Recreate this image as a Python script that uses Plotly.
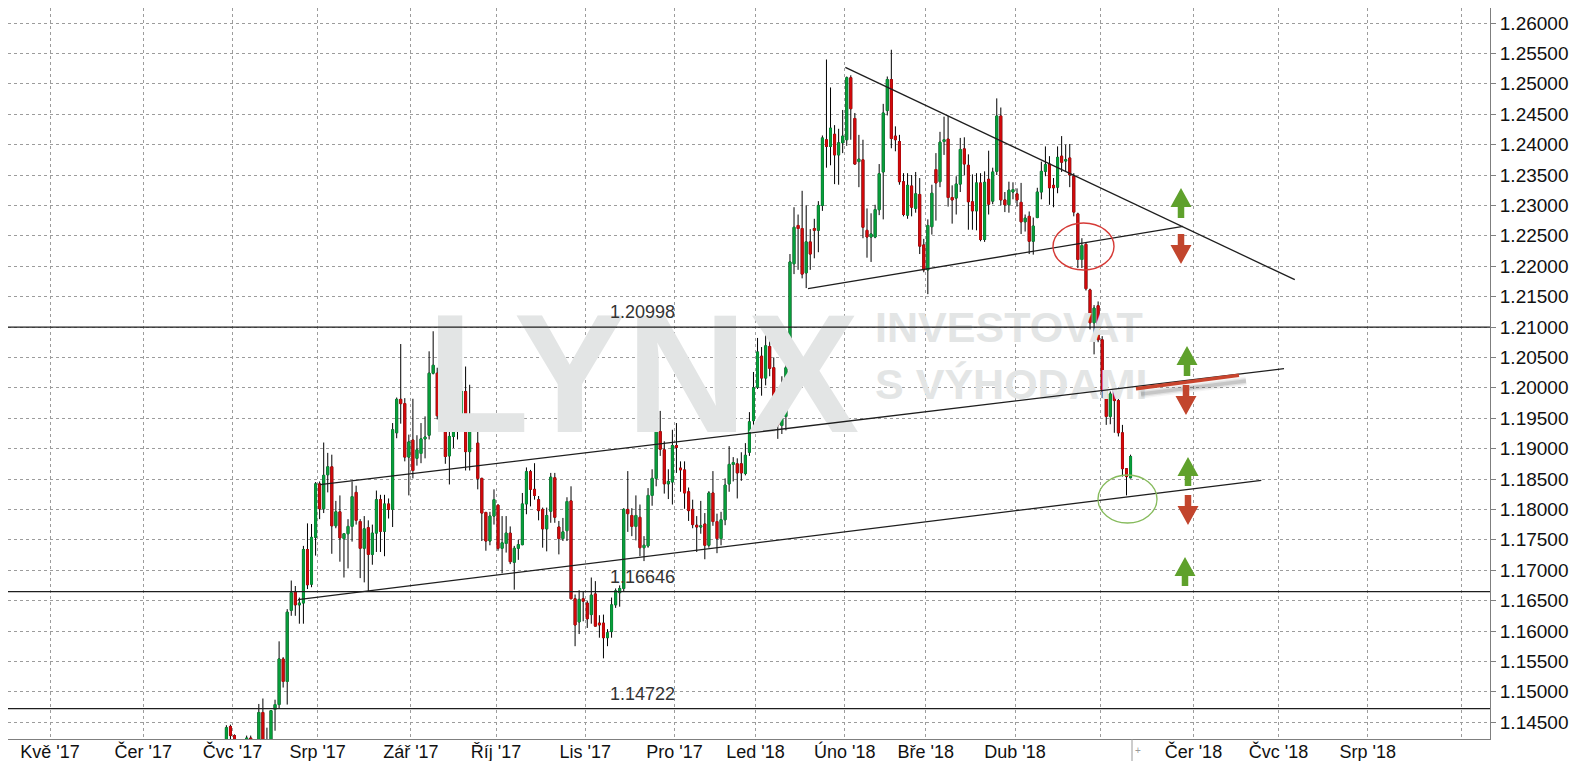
import pandas as pd
import plotly.graph_objects as go

# ---------------- data (EUR/USD daily) ----------------
DATES = [
    "2017-06-29", "2017-06-30",
    "2017-07-03", "2017-07-04", "2017-07-05", "2017-07-06", "2017-07-07",
    "2017-07-10", "2017-07-11", "2017-07-12", "2017-07-13", "2017-07-14",
    "2017-07-17", "2017-07-18", "2017-07-19", "2017-07-20", "2017-07-21",
    "2017-07-24", "2017-07-25", "2017-07-26", "2017-07-27", "2017-07-28",
    "2017-07-31", "2017-08-01", "2017-08-02", "2017-08-03", "2017-08-04",
    "2017-08-07", "2017-08-08", "2017-08-09", "2017-08-10", "2017-08-11",
    "2017-08-14", "2017-08-15", "2017-08-16", "2017-08-17", "2017-08-18",
    "2017-08-21", "2017-08-22", "2017-08-23", "2017-08-24", "2017-08-25",
    "2017-08-28", "2017-08-29", "2017-08-30", "2017-08-31", "2017-09-01",
    "2017-09-04", "2017-09-05", "2017-09-06", "2017-09-07", "2017-09-08",
    "2017-09-11", "2017-09-12", "2017-09-13", "2017-09-14", "2017-09-15",
    "2017-09-18", "2017-09-19", "2017-09-20", "2017-09-21", "2017-09-22",
    "2017-09-25", "2017-09-26", "2017-09-27", "2017-09-28", "2017-09-29",
    "2017-10-02", "2017-10-03", "2017-10-04", "2017-10-05", "2017-10-06",
    "2017-10-09", "2017-10-10", "2017-10-11", "2017-10-12", "2017-10-13",
    "2017-10-16", "2017-10-17", "2017-10-18", "2017-10-19", "2017-10-20",
    "2017-10-23", "2017-10-24", "2017-10-25", "2017-10-26", "2017-10-27",
    "2017-10-30", "2017-10-31", "2017-11-01", "2017-11-02", "2017-11-03",
    "2017-11-06", "2017-11-07", "2017-11-08", "2017-11-09", "2017-11-10",
    "2017-11-13", "2017-11-14", "2017-11-15", "2017-11-16", "2017-11-17",
    "2017-11-20", "2017-11-21", "2017-11-22", "2017-11-23", "2017-11-24",
    "2017-11-27", "2017-11-28", "2017-11-29", "2017-11-30", "2017-12-01",
    "2017-12-04", "2017-12-05", "2017-12-06", "2017-12-07", "2017-12-08",
    "2017-12-11", "2017-12-12", "2017-12-13", "2017-12-14", "2017-12-15",
    "2017-12-18", "2017-12-19", "2017-12-20", "2017-12-21", "2017-12-22",
    "2017-12-26", "2017-12-27", "2017-12-28", "2017-12-29",
    "2018-01-02", "2018-01-03", "2018-01-04", "2018-01-05",
    "2018-01-08", "2018-01-09", "2018-01-10", "2018-01-11", "2018-01-12",
    "2018-01-15", "2018-01-16", "2018-01-17", "2018-01-18", "2018-01-19",
    "2018-01-22", "2018-01-23", "2018-01-24", "2018-01-25", "2018-01-26",
    "2018-01-29", "2018-01-30", "2018-01-31", "2018-02-01", "2018-02-02",
    "2018-02-05", "2018-02-06", "2018-02-07", "2018-02-08", "2018-02-09",
    "2018-02-12", "2018-02-13", "2018-02-14", "2018-02-15", "2018-02-16",
    "2018-02-19", "2018-02-20", "2018-02-21", "2018-02-22", "2018-02-23",
    "2018-02-26", "2018-02-27", "2018-02-28", "2018-03-01", "2018-03-02",
    "2018-03-05", "2018-03-06", "2018-03-07", "2018-03-08", "2018-03-09",
    "2018-03-12", "2018-03-13", "2018-03-14", "2018-03-15", "2018-03-16",
    "2018-03-19", "2018-03-20", "2018-03-21", "2018-03-22", "2018-03-23",
    "2018-03-26", "2018-03-27", "2018-03-28", "2018-03-29", "2018-03-30",
    "2018-04-02", "2018-04-03", "2018-04-04", "2018-04-05", "2018-04-06",
    "2018-04-09", "2018-04-10", "2018-04-11", "2018-04-12", "2018-04-13",
    "2018-04-16", "2018-04-17", "2018-04-18", "2018-04-19", "2018-04-20",
    "2018-04-23", "2018-04-24", "2018-04-25", "2018-04-26", "2018-04-27",
    "2018-04-30", "2018-05-01", "2018-05-02", "2018-05-03", "2018-05-04",
    "2018-05-07", "2018-05-08", "2018-05-09", "2018-05-10",
]

OPEN = [
    1.1375, 1.1443,
    1.1428, 1.1363, 1.1348, 1.1352, 1.1424,
    1.1400, 1.1398, 1.1466, 1.1414, 1.1398,
    1.1471, 1.1479, 1.1554, 1.1517, 1.1634,
    1.1665, 1.1643, 1.1646, 1.1734, 1.1677,
    1.1754, 1.1842, 1.1801, 1.1857, 1.1870,
    1.1773, 1.1796, 1.1752, 1.1760, 1.1772,
    1.1828, 1.1780, 1.1736, 1.1770, 1.1726,
    1.1761, 1.1816, 1.1764, 1.1809, 1.1800,
    1.1926, 1.1981, 1.1974, 1.1886, 1.1914,
    1.1884, 1.1892, 1.1916, 1.1922, 1.2024,
    1.2024, 1.1954, 1.1966, 1.1888, 1.1920,
    1.1935, 1.1956, 1.1994, 1.1895, 1.1942,
    1.1909, 1.1851, 1.1795, 1.1748, 1.1789,
    1.1807, 1.1736, 1.1744, 1.1761, 1.1713,
    1.1736, 1.1742, 1.1809, 1.1862, 1.1833,
    1.1816, 1.1800, 1.1768, 1.1797, 1.1852,
    1.1771, 1.1752, 1.1765, 1.1814, 1.1653,
    1.1615, 1.1653, 1.1646, 1.1627, 1.1661,
    1.1613, 1.1613, 1.1589, 1.1599, 1.1643,
    1.1663, 1.1670, 1.1800, 1.1790, 1.1772,
    1.1787, 1.1737, 1.1740, 1.1823, 1.1851,
    1.1928, 1.1898, 1.1842, 1.1845, 1.1905,
    1.1868, 1.1865, 1.1829, 1.1800, 1.1774,
    1.1771, 1.1776, 1.1741, 1.1827, 1.1780,
    1.1752, 1.1783, 1.1842, 1.1874, 1.1875,
    1.1875, 1.1859, 1.1894, 1.1946,
    1.2001, 1.2052, 1.2016, 1.2068,
    1.2033, 1.1968, 1.1938, 1.1953, 1.2034,
    1.2204, 1.2267, 1.2262, 1.2189, 1.2240,
    1.2262, 1.2259, 1.2300, 1.2408, 1.2397,
    1.2417, 1.2383, 1.2403, 1.2408, 1.2510,
    1.2443, 1.2372, 1.2375, 1.2259, 1.2248,
    1.2248, 1.2293, 1.2355, 1.2456, 1.2507,
    1.2414, 1.2405, 1.2339, 1.2284, 1.2332,
    1.2295, 1.2318, 1.2235, 1.2194, 1.2265,
    1.2359, 1.2339, 1.2405, 1.2409, 1.2313,
    1.2312, 1.2335, 1.2393, 1.2366, 1.2306,
    1.2291, 1.2337, 1.2244, 1.2343, 1.2307,
    1.2356, 1.2447, 1.2309, 1.2301, 1.2322,
    1.2319, 1.2305, 1.2273, 1.2282, 1.2241,
    1.2280, 1.2322, 1.2356, 1.2368, 1.2333,
    1.2330, 1.2381, 1.2373, 1.2378, 1.2348,
    1.2286, 1.2211, 1.2236, 1.2161, 1.2107,
    1.2135, 1.2079, 1.1995, 1.1953, 1.1999,
    1.1979, 1.1926, 1.1867, 1.1852,
]

HIGH = [
    1.1445, 1.1446,
    1.1430, 1.1368, 1.1367, 1.1428, 1.1428,
    1.1419, 1.1480, 1.1489, 1.1441, 1.1470,
    1.1487, 1.1583, 1.1557, 1.1636, 1.1683,
    1.1674, 1.1655, 1.1740, 1.1777, 1.1776,
    1.1845, 1.1846, 1.1910, 1.1893, 1.1890,
    1.1814, 1.1823, 1.1760, 1.1784, 1.1846,
    1.1839, 1.1784, 1.1789, 1.1782, 1.1775,
    1.1831, 1.1824, 1.1824, 1.1818, 1.1942,
    1.1984, 1.2072, 1.1983, 1.1923, 1.1982,
    1.1922, 1.1942, 1.1953, 1.2060, 1.2093,
    1.2033, 1.1981, 1.1995, 1.1961, 1.1957,
    1.1975, 1.2010, 1.2035, 1.2005, 1.1957,
    1.1937, 1.1852, 1.1796, 1.1796, 1.1833,
    1.1808, 1.1789, 1.1789, 1.1772, 1.1740,
    1.1750, 1.1827, 1.1869, 1.1865, 1.1876,
    1.1822, 1.1803, 1.1803, 1.1860, 1.1860,
    1.1781, 1.1786, 1.1820, 1.1838, 1.1660,
    1.1667, 1.1665, 1.1650, 1.1688, 1.1682,
    1.1626, 1.1627, 1.1603, 1.1655, 1.1670,
    1.1675, 1.1802, 1.1863, 1.1802, 1.1823,
    1.1808, 1.1756, 1.1835, 1.1866, 1.1946,
    1.1962, 1.1912, 1.1866, 1.1931, 1.1942,
    1.1879, 1.1879, 1.1836, 1.1816, 1.1789,
    1.1814, 1.1794, 1.1830, 1.1863, 1.1793,
    1.1796, 1.1851, 1.1904, 1.1886, 1.1884,
    1.1894, 1.1909, 1.1960, 1.2026,
    1.2082, 1.2067, 1.2090, 1.2082,
    1.2050, 1.1976, 1.2019, 1.2061, 1.2220,
    1.2297, 1.2285, 1.2324, 1.2300, 1.2261,
    1.2278, 1.2307, 1.2415, 1.2540, 1.2494,
    1.2432, 1.2426, 1.2457, 1.2512, 1.2514,
    1.2452, 1.2416, 1.2408, 1.2295, 1.2287,
    1.2301, 1.2368, 1.2467, 1.2512, 1.2556,
    1.2430, 1.2416, 1.2353, 1.2353, 1.2350,
    1.2355, 1.2345, 1.2245, 1.2277, 1.2334,
    1.2386, 1.2421, 1.2446, 1.2447, 1.2333,
    1.2348, 1.2411, 1.2412, 1.2384, 1.2351,
    1.2353, 1.2353, 1.2356, 1.2390, 1.2362,
    1.2476, 1.2461, 1.2322, 1.2339, 1.2338,
    1.2328, 1.2337, 1.2285, 1.2290, 1.2280,
    1.2329, 1.2372, 1.2397, 1.2381, 1.2345,
    1.2397, 1.2414, 1.2400, 1.2401, 1.2353,
    1.2288, 1.2246, 1.2238, 1.2163, 1.2136,
    1.2142, 1.2085, 1.1999, 1.1994, 1.2009,
    1.1984, 1.1939, 1.1868, 1.1890,
]

LOW = [
    1.1371, 1.1405,
    1.1345, 1.1332, 1.1312, 1.1345, 1.1391,
    1.1385, 1.1390, 1.1390, 1.1391, 1.1377,
    1.1436, 1.1473, 1.1507, 1.1479, 1.1625,
    1.1625, 1.1612, 1.1612, 1.1669, 1.1672,
    1.1724, 1.1784, 1.1794, 1.1828, 1.1727,
    1.1769, 1.1714, 1.1688, 1.1703, 1.1747,
    1.1775, 1.1687, 1.1680, 1.1665, 1.1709,
    1.1730, 1.1730, 1.1723, 1.1785, 1.1771,
    1.1917, 1.1941, 1.1879, 1.1823, 1.1851,
    1.1872, 1.1876, 1.1884, 1.1915, 1.2022,
    1.1948, 1.1942, 1.1875, 1.1841, 1.1901,
    1.1915, 1.1937, 1.1864, 1.1864, 1.1931,
    1.1833, 1.1748, 1.1732, 1.1741, 1.1775,
    1.1732, 1.1695, 1.1729, 1.1710, 1.1668,
    1.1717, 1.1741, 1.1792, 1.1805, 1.1816,
    1.1782, 1.1737, 1.1731, 1.1778, 1.1778,
    1.1726, 1.1748, 1.1748, 1.1653, 1.1575,
    1.1595, 1.1616, 1.1605, 1.1612, 1.1608,
    1.1589, 1.1555, 1.1575, 1.1589, 1.1638,
    1.1640, 1.1665, 1.1763, 1.1756, 1.1749,
    1.1723, 1.1715, 1.1737, 1.1806, 1.1838,
    1.1888, 1.1826, 1.1817, 1.1808, 1.1860,
    1.1829, 1.1801, 1.1781, 1.1769, 1.1730,
    1.1760, 1.1718, 1.1737, 1.1773, 1.1728,
    1.1741, 1.1774, 1.1829, 1.1846, 1.1818,
    1.1847, 1.1856, 1.1888, 1.1937,
    1.1998, 1.1987, 1.2004, 1.2019,
    1.1967, 1.1916, 1.1924, 1.1930, 1.2032,
    1.2187, 1.2194, 1.2180, 1.2164, 1.2194,
    1.2213, 1.2223, 1.2291, 1.2362, 1.2366,
    1.2335, 1.2334, 1.2386, 1.2398, 1.2408,
    1.2367, 1.2330, 1.2246, 1.2214, 1.2207,
    1.2246, 1.2284, 1.2277, 1.2448, 1.2394,
    1.2389, 1.2334, 1.2282, 1.2278, 1.2282,
    1.2288, 1.2220, 1.2190, 1.2154, 1.2252,
    1.2275, 1.2330, 1.2383, 1.2298, 1.2270,
    1.2285, 1.2322, 1.2350, 1.2260, 1.2260,
    1.2259, 1.2241, 1.2240, 1.2285, 1.2302,
    1.2350, 1.2300, 1.2289, 1.2288, 1.2310,
    1.2298, 1.2253, 1.2257, 1.2220, 1.2219,
    1.2279, 1.2310, 1.2348, 1.2301, 1.2297,
    1.2320, 1.2355, 1.2355, 1.2330, 1.2282,
    1.2197, 1.2197, 1.2160, 1.2096, 1.2055,
    1.2075, 1.1983, 1.1939, 1.1940, 1.1926,
    1.1920, 1.1854, 1.1823, 1.1851,
]

CLOSE = [
    1.1441, 1.1428,
    1.1363, 1.1348, 1.1352, 1.1424, 1.1400,
    1.1398, 1.1466, 1.1414, 1.1398, 1.1469,
    1.1479, 1.1554, 1.1517, 1.1631, 1.1663,
    1.1643, 1.1646, 1.1734, 1.1676, 1.1754,
    1.1842, 1.1801, 1.1856, 1.1870, 1.1773,
    1.1796, 1.1753, 1.1760, 1.1772, 1.1821,
    1.1782, 1.1736, 1.1768, 1.1726, 1.1761,
    1.1816, 1.1764, 1.1809, 1.1800, 1.1931,
    1.1981, 1.1974, 1.1886, 1.1911, 1.1864,
    1.1898, 1.1916, 1.1919, 1.2024, 1.2037,
    1.1954, 1.1968, 1.1887, 1.1920, 1.1949,
    1.1956, 1.1994, 1.1895, 1.1941, 1.1951,
    1.1851, 1.1794, 1.1748, 1.1789, 1.1816,
    1.1736, 1.1745, 1.1761, 1.1714, 1.1736,
    1.1742, 1.1809, 1.1862, 1.1833, 1.1823,
    1.1798, 1.1768, 1.1790, 1.1853, 1.1787,
    1.1752, 1.1763, 1.1813, 1.1653, 1.1610,
    1.1652, 1.1649, 1.1620, 1.1659, 1.1608,
    1.1610, 1.1589, 1.1597, 1.1643, 1.1666,
    1.1670, 1.1800, 1.1793, 1.1772, 1.1790,
    1.1737, 1.1741, 1.1823, 1.1851, 1.1934,
    1.1899, 1.1842, 1.1846, 1.1905, 1.1902,
    1.1865, 1.1827, 1.1798, 1.1775, 1.1771,
    1.1773, 1.1741, 1.1827, 1.1780, 1.1752,
    1.1783, 1.1840, 1.1874, 1.1877, 1.1860,
    1.1860, 1.1889, 1.1944, 1.2000,
    1.2059, 1.2016, 1.2069, 1.2032,
    1.1968, 1.1939, 1.1949, 1.2033, 1.2207,
    1.2264, 1.2262, 1.2187, 1.2240, 1.2220,
    1.2259, 1.2300, 1.2411, 1.2397, 1.2427,
    1.2383, 1.2403, 1.2414, 1.2510, 1.2459,
    1.2368, 1.2376, 1.2264, 1.2248, 1.2253,
    1.2293, 1.2352, 1.2452, 1.2507, 1.2410,
    1.2408, 1.2339, 1.2285, 1.2333, 1.2297,
    1.2319, 1.2233, 1.2194, 1.2267, 1.2320,
    1.2337, 1.2404, 1.2408, 1.2313, 1.2309,
    1.2335, 1.2392, 1.2368, 1.2306, 1.2291,
    1.2337, 1.2244, 1.2338, 1.2302, 1.2355,
    1.2447, 1.2309, 1.2301, 1.2325, 1.2326,
    1.2309, 1.2273, 1.2279, 1.2241, 1.2266,
    1.2322, 1.2356, 1.2367, 1.2329, 1.2329,
    1.2379, 1.2371, 1.2375, 1.2350, 1.2289,
    1.2211, 1.2234, 1.2163, 1.2107, 1.2131,
    1.2079, 1.1995, 1.1953, 1.1990, 1.1979,
    1.1926, 1.1867, 1.1854, 1.1887,
]

MONTH_TICKS = [
    "2017-05-01", "2017-06-01", "2017-07-03", "2017-08-01", "2017-09-01",
    "2017-10-02", "2017-11-01", "2017-12-01", "2018-01-02", "2018-02-01",
    "2018-03-01", "2018-04-02", "2018-05-01", "2018-06-01", "2018-07-02",
    "2018-08-01", "2018-09-03",
]
MONTH_LABELS = [
    "Kvě '17", "Čer '17", "Čvc '17", "Srp '17", "Zář '17",
    "Říj '17", "Lis '17", "Pro '17", "Led '18", "Úno '18",
    "Bře '18", "Dub '18", "", "Čer '18", "Čvc '18",
    "Srp '18", "",
]
PRICE_TICKS = [
    1.145, 1.150, 1.155, 1.160, 1.165, 1.170, 1.175, 1.180, 1.185, 1.190,
    1.195, 1.200, 1.205, 1.210, 1.215, 1.220, 1.225, 1.230, 1.235, 1.240,
    1.245, 1.250, 1.255, 1.260,
]
HOLIDAYS = ["2017-12-25", "2018-01-01"]

LEVELS = [1.20998, 1.16646, 1.14722]

# trend lines: (date0, price0, date1, price1)
TREND_LINES = [
    ("2017-08-01 14:10", 1.18406, "2018-07-03 08:10", 1.20314),  # upper channel
    ("2017-07-25 04:00", 1.16515, "2018-06-25 18:00", 1.18479),  # lower channel
    ("2018-02-01 03:36", 1.25271, "2018-07-06 00:00", 1.21778),  # triangle top
    ("2018-01-18 22:50", 1.21630, "2018-05-29 10:30", 1.22656),  # triangle bottom
]

X_RANGE = ["2017-04-14 15:21", "2018-09-12 03:36"]
Y_RANGE = [1.142237, 1.262467]

# ---------------- styling ----------------
W, H = 1583, 761
ML, MR, MT, MB = 0, 101, 0, 30
PW, PH = W - ML - MR, H - MT - MB

GREEN = "#08a03c"
RED = "#d4090b"
ARROW_G = "#5fa12c"
ARROW_R = "#c2452d"
WM = "#e3e5e5"
FONT = "Liberation Sans, Arial, sans-serif"
WM_FONT = "Liberation Sans, Arial, sans-serif"

x = pd.to_datetime(DATES) + pd.Timedelta(hours=12)
body_hi = [max(o, c) for o, c in zip(OPEN, CLOSE)]
body_lo = [min(o, c) for o, c in zip(OPEN, CLOSE)]

fig = go.Figure()

# watermark (drawn under the candles)
fig.add_trace(go.Scatter(
    x=["2017-11-21 06:00"], y=[1.19972], mode="text", text=["LYNX"],
    textposition="middle center",
    textfont=dict(size=168, color=WM, family=WM_FONT, weight="bold"),
    hoverinfo="skip", showlegend=False))
fig.add_trace(go.Scatter(
    x=["2018-02-12 12:00", "2018-02-12 12:00"], y=[1.20930, 1.20000], mode="text",
    text=["INVESTOVAT", "S VÝHODAMI"], textposition="middle right",
    textfont=dict(size=43, color=WM, family=WM_FONT, weight="bold"),
    hoverinfo="skip", showlegend=False))

# wicks (black) and bodies (coloured)
fig.add_trace(go.Candlestick(
    x=x, open=OPEN, high=HIGH, low=LOW, close=CLOSE,
    increasing=dict(line=dict(color="#000000", width=1), fillcolor="#000000"),
    decreasing=dict(line=dict(color="#000000", width=1), fillcolor="#000000"),
    whiskerwidth=0, hoverinfo="skip", showlegend=False))
fig.add_trace(go.Candlestick(
    x=x, open=OPEN, high=body_hi, low=body_lo, close=CLOSE,
    increasing=dict(line=dict(color=GREEN, width=0.8), fillcolor=GREEN),
    decreasing=dict(line=dict(color=RED, width=0.8), fillcolor=RED),
    whiskerwidth=0, showlegend=False))

shapes = []
annotations = []

for lv in LEVELS:
    shapes.append(dict(type="line", xref="paper", yref="y", x0=0, x1=1, y0=lv, y1=lv,
                       line=dict(color="#1e1e1e", width=1.2)))
    annotations.append(dict(xref="paper", yref="y", x=600 / PW, y=lv, xanchor="left",
                            yanchor="bottom", text=f"{lv:.5f}", showarrow=False, yshift=3,
                            font=dict(size=18, color="#333333", family=FONT)))

for x0, y0, x1, y1 in TREND_LINES:
    shapes.append(dict(type="line", xref="x", yref="y", x0=x0, y0=y0, x1=x1, y1=y1,
                       line=dict(color="#1e1e1e", width=1.3)))


def px(v):
    return v / PW


def py(v):
    return 1 - v / PH


# red marker line with a soft shadow
for w, op in [(9, 0.06), (6, 0.10), (3.5, 0.16)]:
    shapes.append(dict(type="line", xref="paper", yref="paper",
                       x0=px(1133), y0=py(386), x1=px(1238), y1=py(373),
                       line=dict(color=f"rgba(60,60,60,{op})", width=w)))
shapes.append(dict(type="line", xref="paper", yref="paper",
                   x0=px(1128), y0=py(380.7), x1=px(1231), y1=py(367.3),
                   line=dict(color="#c9452e", width=3.5)))

# ellipses
shapes.append(dict(type="circle", xref="paper", yref="paper",
                   x0=px(1045), x1=px(1106), y0=py(262), y1=py(215),
                   line=dict(color="#d63a36", width=1.4)))
shapes.append(dict(type="circle", xref="paper", yref="paper",
                   x0=px(1090), x1=px(1149), y0=py(515), y1=py(467),
                   line=dict(color="#86bb5c", width=1.4)))


def arrow(cx, y_tip, y_end, color, head_len=19, head_w=21, stem_w=6.5):
    s = 1 if y_end > y_tip else -1
    yb = y_tip + s * head_len
    pts = [(cx, y_tip), (cx + head_w / 2, yb), (cx + stem_w / 2, yb), (cx + stem_w / 2, y_end),
           (cx - stem_w / 2, y_end), (cx - stem_w / 2, yb), (cx - head_w / 2, yb)]
    path = "M " + " L ".join(f"{px(a):.5f},{py(b):.5f}" for a, b in pts) + " Z"
    return dict(type="path", xref="paper", yref="paper", path=path,
                fillcolor=color, line=dict(color=color, width=0))


for cx, yt, ye, col in [
    (1173, 180, 210, ARROW_G), (1173, 256, 226, ARROW_R),
    (1179, 338, 368, ARROW_G), (1178, 407, 377, ARROW_R),
    (1180, 449, 478, ARROW_G), (1180, 517, 487, ARROW_R),
    (1177, 549, 578, ARROW_G),
]:
    shapes.append(arrow(cx, yt, ye, col))

# current-bar marker under the axis
shapes.append(dict(type="line", xref="paper", yref="paper", x0=px(1124), x1=px(1124),
                   y0=0, y1=py(757), line=dict(color="#9a9a9a", width=1)))
annotations.append(dict(xref="paper", yref="paper", x=px(1130), y=py(742), text="+",
                        xanchor="center", yanchor="middle",
                        showarrow=False, font=dict(size=10, color="#9a9a9a", family=FONT)))

# axis title
annotations.append(dict(xref="paper", yref="paper", x=px(1572), y=py(333), text="Cena",
                        xanchor="center", yanchor="middle",
                        textangle=90, showarrow=False,
                        font=dict(size=11, color="#333333", family=FONT)))

fig.update_layout(
    width=W, height=H,
    margin=dict(l=ML, r=MR, t=MT, b=MB),
    paper_bgcolor="white", plot_bgcolor="white",
    showlegend=False,
    shapes=shapes, annotations=annotations,
    xaxis=dict(
        type="date", range=X_RANGE,
        rangebreaks=[dict(bounds=["sat", "mon"]), dict(values=HOLIDAYS)],
        rangeslider=dict(visible=False),
        tickmode="array", tickvals=MONTH_TICKS, ticktext=MONTH_LABELS,
        showgrid=True, gridcolor="#9c9c9c", gridwidth=1, griddash="3px,3px",
        showline=True, linecolor="#7f7f7f", linewidth=1,
        ticks="", ticklabelstandoff=-4, zeroline=False, automargin=False,
        tickfont=dict(size=18, color="#111111", family=FONT),
    ),
    yaxis=dict(
        side="right", range=Y_RANGE,
        tickmode="array", tickvals=PRICE_TICKS, ticktext=[f"{v:.5f}" for v in PRICE_TICKS],
        showgrid=True, gridcolor="#9c9c9c", gridwidth=1, griddash="3px,3px",
        showline=True, linecolor="#7f7f7f", linewidth=1,
        ticks="outside", ticklen=5, tickcolor="#7f7f7f",
        zeroline=False, automargin=False,
        tickfont=dict(size=19, color="#111111", family=FONT),
    ),
)

fig.write_html("out.html")
